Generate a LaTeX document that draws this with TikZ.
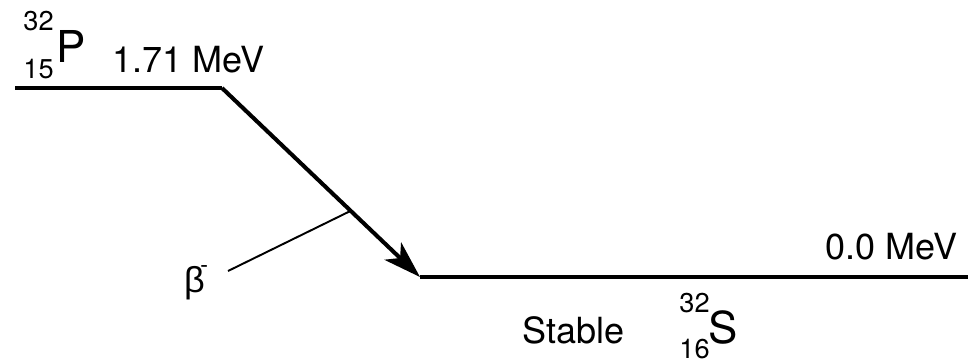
\documentclass[tikz,border=0pt]{standalone}
\usepackage{fontspec}
\setmainfont{TeX Gyre Heros}
\newfontfamily\greekfont{Liberation Sans}
\usepackage{tikz}
\usetikzlibrary{arrows.meta, positioning, calc}

\tikzset{
  level/.style={line width=2.3pt},
  decay/.style={line width=2.3pt, -{Stealth[length=7.5mm, width=4.8mm, inset=2mm]}},
  pointer/.style={line width=1.1pt},
  biglabel/.style={inner sep=0pt, font=\fontsize{20.5}{24}\selectfont},
  elemlabel/.style={inner sep=0pt, font=\fontsize{25}{28}\selectfont},
  nuclabel/.style={inner sep=0pt, font=\fontsize{15.5}{18}\selectfont}
}

\begin{document}
\begin{tikzpicture}[x=0.02cm, y=-0.02cm]
        \useasboundingbox (0,0) rectangle (973,363);

        % Energy levels
        \coordinate (p0) at (15,88);
        \coordinate (p1) at (222,88);
        \coordinate (s0) at (420,277);
        \coordinate (s1) at (968,277);
        \draw[level] (p0) -- (p1);
        \draw[level] (s0) -- (s1);

        % Beta decay
        \draw[decay] (p1) -- (s0);
        \coordinate (hit) at ($(p1)!0.65!(s0)$);
        \coordinate (tail) at (228,271);
        \draw[pointer] (tail) -- (hit);
        \node[biglabel, anchor=base] (beta) at (196,292)
          {\greekfont β\kern-0.12em\raisebox{0.55em}{\fontsize{13}{14}\selectfont -}};

        % Parent nucleus
        \node[elemlabel, anchor=base west] (pname) at (56,62) {P};
        \node[nuclabel, anchor=base east] (pmass) at (54,30) {32};
        \node[nuclabel, anchor=base east] (pnum) at (54,78) {15};
        \node[biglabel, anchor=base west] (penergy) at (112,72) {1.71 MeV};

        % Daughter nucleus
        \node[biglabel, anchor=base east] (senergy) at (958,259) {0.0 MeV};
        \node[biglabel, anchor=base west] (stable) at (522,343) {Stable};
        \node[elemlabel, anchor=base west] (sname) at (708,343) {S};
        \node[nuclabel, anchor=base east] (smass) at (710,312) {32};
        \node[nuclabel, anchor=base east] (snum) at (710,358) {16};
    \end{tikzpicture}
\end{document}
